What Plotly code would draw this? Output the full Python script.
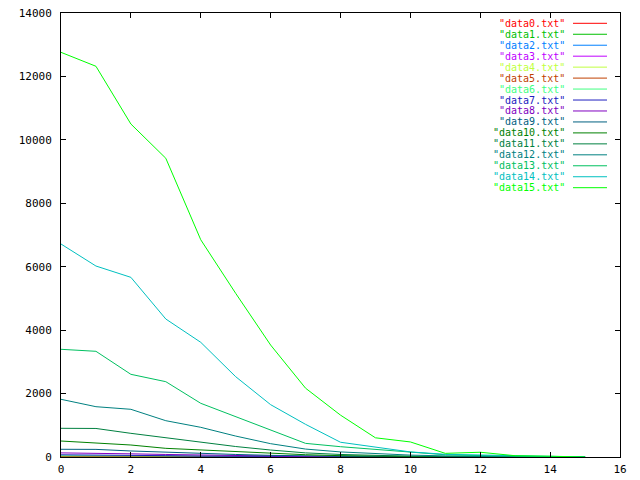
import plotly.graph_objects as go

x_vals = list(range(16))

data0 = [1, 1, 0, 0, 0, 0, 0, 0, 0, 0, 0, 0, 0, 0, 0, 0]
data1 = [2, 2, 1, 1, 0, 0, 0, 0, 0, 0, 0, 0, 0, 0, 0, 0]
data2 = [4, 3, 2, 1, 1, 0, 0, 0, 0, 0, 0, 0, 0, 0, 0, 0]
data3 = [7, 6, 4, 3, 2, 1, 0, 0, 0, 0, 0, 0, 0, 0, 0, 0]
data4 = [12, 11, 8, 6, 4, 3, 2, 1, 0, 0, 0, 0, 0, 0, 0, 0]
data5 = [22, 20, 14, 10, 7, 5, 3, 2, 1, 0, 0, 0, 0, 0, 0, 0]
data6 = [40, 37, 28, 20, 13, 9, 6, 3, 2, 1, 0, 0, 0, 0, 0, 0]
data7 = [70, 66, 52, 42, 28, 20, 13, 8, 5, 3, 1, 0, 0, 0, 0, 0]
data8 = [130, 122, 100, 80, 60, 42, 28, 16, 10, 5, 3, 1, 0, 0, 0, 0]
data9 = [243, 240, 190, 148, 110, 80, 52, 32, 18, 10, 6, 3, 1, 0, 0, 0]
data10 = [504, 431, 378, 273, 220, 185, 120, 72, 42, 24, 14, 7, 4, 2, 1, 0]
data11 = [905, 900, 746, 610, 480, 330, 220, 130, 80, 48, 26, 14, 8, 4, 2, 0]
data12 = [1819, 1586, 1504, 1145, 936, 660, 420, 250, 160, 105, 60, 35, 20, 10, 5, 0]
data13 = [3396, 3333, 2607, 2375, 1693, 1271, 830, 430, 325, 240, 140, 70, 45, 20, 8, 0]
data14 = [6716, 6022, 5665, 4351, 3616, 2532, 1650, 1030, 465, 305, 160, 85, 60, 30, 10, 0]
data15 = [12760, 12320, 10500, 9420, 6850, 5160, 3530, 2170, 1320, 605, 475, 115, 150, 40, 25, 0]

series = [data0, data1, data2, data3, data4, data5, data6, data7,
          data8, data9, data10, data11, data12, data13, data14, data15]
names = ['"data%d.txt"' % i for i in range(16)]
colors = ["#ff0000", "#00c000", "#0080ff", "#c000ff", "#c0ff40", "#c04000",
          "#40ff80", "#2020c0", "#8000c0", "#006080", "#008000", "#008040",
          "#008080", "#00c060", "#00c0c0", "#00ff00"]

x_ticks = list(range(0, 17, 2))
y_ticks = list(range(0, 14001, 2000))

W, H = 640, 480
L, R, T, B = 61, 20, 13, 23
pw, ph = W - L - R, H - T - B

fig = go.Figure()
for s, n, c in zip(series, names, colors):
    fig.add_trace(go.Scatter(x=x_vals, y=s, mode="lines", name=n,
                             line=dict(color=c, width=1), showlegend=False,
                             hoverinfo="skip"))

font = dict(family="DejaVu Sans Mono", size=11, color="black")

# legend (text right-aligned, sample line to the right)
for i, (n, c) in enumerate(zip(names, colors)):
    py = 23.3 + 10.96 * i
    yp = (H - B - py) / ph
    fig.add_annotation(xref="paper", yref="paper", x=(566 - L) / pw, y=yp,
                       text=n, showarrow=False, xanchor="right", yanchor="middle",
                       borderpad=0,
                       font=dict(family="DejaVu Sans Mono", size=10, color=c))
    fig.add_shape(type="line", xref="paper", yref="paper",
                  x0=(573 - L) / pw, x1=(607 - L) / pw, y0=yp, y1=yp,
                  line=dict(color=c, width=1))

axis_common = dict(showline=True, mirror="ticks", linecolor="black", linewidth=1,
                   ticks="inside", ticklen=5, tickcolor="black", tickwidth=1,
                   showgrid=False, zeroline=False, tickfont=font, automargin=False)

fig.update_xaxes(range=[0, 16], tickvals=x_ticks, ticktext=[str(v) for v in x_ticks],
                 ticklabelstandoff=2, **axis_common)
fig.update_yaxes(range=[0, 14000], tickvals=y_ticks, ticktext=[str(v) for v in y_ticks],
                 ticklabelstandoff=6, **axis_common)

fig.update_layout(width=W, height=H, autosize=False,
                  margin=dict(l=L, r=R, t=T, b=B, pad=0),
                  paper_bgcolor="white", plot_bgcolor="white", showlegend=False)

fig.write_html("out.html", config={"displayModeBar": False},
               post_script="document.body.style.margin='0';document.body.style.overflow='hidden';")
